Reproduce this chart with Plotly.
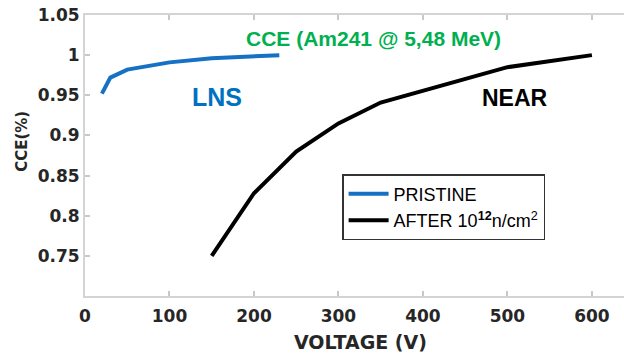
import plotly.graph_objects as go

# Data
lns_v = [20, 30, 50, 100, 150, 230]
lns_cce = [0.952, 0.972, 0.982, 0.991, 0.996, 1.0]
near_v = [150, 200, 250, 300, 350, 400, 500, 600]
near_cce = [0.75, 0.828, 0.88, 0.915, 0.941, 0.956, 0.985, 1.0]
x_ticks = [0, 100, 200, 300, 400, 500, 600]
y_ticks = [0.75, 0.8, 0.85, 0.9, 0.95, 1.0, 1.05]
y_tick_text = ["0.75", "0.8", "0.85", "0.9", "0.95", "1", "1.05"]

fig = go.Figure()
fig.add_trace(go.Scatter(x=lns_v, y=lns_cce, mode="lines", name="PRISTINE",
                         line=dict(color="#1670c4", width=4)))
fig.add_trace(go.Scatter(x=near_v, y=near_cce, mode="lines",
                         name="AFTER 10<sup><b>12</b></sup>n/cm<sup>2</sup>",
                         line=dict(color="#000000", width=4)))

tickfont = dict(family="DejaVu Sans", size=17, color="#262626", weight="bold")
axis_common = dict(showgrid=False, zeroline=False, showline=True, linecolor="#d4d4d4",
                   linewidth=2, ticks="inside", ticklen=5, tickcolor="#c8c8c8",
                   tickwidth=1.5, tickfont=tickfont)

fig.update_xaxes(range=[0, 638], tickvals=x_ticks, mirror="ticks", ticklabelstandoff=4,
                 **axis_common)
fig.update_yaxes(range=[0.70, 1.05], tickvals=y_ticks, ticktext=y_tick_text, **axis_common)

fig.update_layout(
    width=624, height=354,
    margin=dict(l=85, r=0, t=15, b=58),
    plot_bgcolor="white", paper_bgcolor="white",
    showlegend=True,
    legend=dict(x=0.477, y=0.434, xanchor="left", yanchor="top",
                bordercolor="#333333", borderwidth=1.5, bgcolor="white",
                font=dict(family="Liberation Sans", size=18, color="#000000"),
                tracegroupgap=0, itemwidth=40),
    annotations=[
        dict(x=341, y=1.021, xref="x", yref="y", text="<b>CCE (Am241 @ 5,48 MeV)</b>",
             showarrow=False, xanchor="center", yanchor="middle",
             font=dict(family="Liberation Sans", size=21, color="#00b050")),
        dict(x=156, y=0.948, xref="x", yref="y", text="<b>LNS</b>",
             showarrow=False, xanchor="center", yanchor="middle",
             font=dict(family="Liberation Sans", size=25, color="#0070c0")),
        dict(x=509, y=0.947, xref="x", yref="y", text="<b>NEAR</b>",
             showarrow=False, xanchor="center", yanchor="middle",
             font=dict(family="Liberation Sans", size=23, color="#000000")),
        dict(x=0.512, y=-0.164, xref="paper", yref="paper", text="VOLTAGE (V)",
             showarrow=False, xanchor="center", yanchor="middle",
             font=dict(family="DejaVu Sans", size=19, color="#262626", weight="bold")),
        dict(x=-0.117, y=0.552, xref="paper", yref="paper", text="CCE(%)", textangle=-90,
             showarrow=False, xanchor="center", yanchor="middle",
             font=dict(family="DejaVu Sans", size=15, color="#262626", weight="bold")),
    ],
)

fig.write_html("out.html")
